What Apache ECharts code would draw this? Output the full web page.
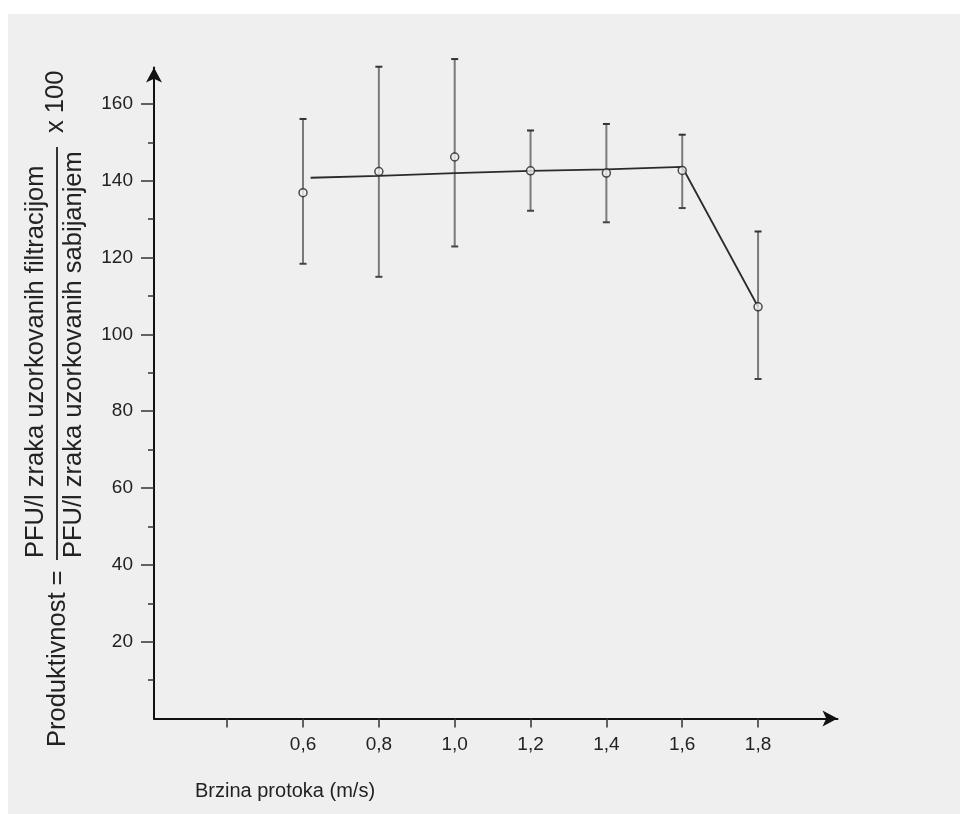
<!DOCTYPE html>
<html>
<head>
<meta charset="utf-8">
<script src="https://cdn.jsdelivr.net/npm/echarts@6/dist/echarts.min.js"></script>
<style>
  html, body { margin: 0; padding: 0; background: #ffffff; }
  #chart { width: 960px; height: 814px; }
</style>
</head>
<body>
<div id="chart"></div>
<script>
// flow speed (m/s) and productivity
const speeds = [0.6, 0.8, 1.0, 1.2, 1.4, 1.6, 1.8]
const meanValues = [136.9, 142.4, 146.2, 142.6, 142.0, 142.7, 107.2]
const lowValues = [118.4, 115.0, 122.9, 132.2, 129.2, 132.9, 88.4]
const highValues = [156.1, 169.7, 171.7, 153.1, 154.8, 152.0, 126.8]

// the drawn trend line does not pass exactly through the markers
const lineSpeeds = [0.62, 0.8, 1.0, 1.2, 1.4, 1.6, 1.8]
const lineValues = [140.8, 141.3, 142.0, 142.6, 143.0, 143.6, 107.2]

const xTickValues = [0.4, 0.6, 0.8, 1.0, 1.2, 1.4, 1.6, 1.8]
const xLabelValues = [0.6, 0.8, 1.0, 1.2, 1.4, 1.6, 1.8]
const yLabelValues = [20, 40, 60, 80, 100, 120, 140, 160]
const yMinorTickValues = [10, 30, 50, 70, 90, 110, 130, 150]

const font = "'Liberation Sans', Arial, sans-serif"
const ink = '#222222'

const chart = echarts.init(document.getElementById('chart'))

chart.setOption({
  animation: false,
  backgroundColor: '#ffffff',
  grid: {
    left: 154,
    right: 122.5,
    top: 67.5,
    bottom: 95.5,
    containLabel: false,
    outerBoundsMode: 'none',
  },
  graphic: [
    {
      type: 'rect',
      z: -10,
      silent: true,
      shape: { x: 8, y: 14, width: 952, height: 800 },
      style: { fill: '#efefef' },
    },
    {
      type: 'text',
      x: 58,
      y: 747,
      rotation: Math.PI / 2,
      style: {
        text: 'Produktivnost =',
        font: '25.5px ' + font,
        fill: ink,
        textAlign: 'left',
        textVerticalAlign: 'middle',
      },
    },
    {
      type: 'text',
      x: 36,
      y: 558,
      rotation: Math.PI / 2,
      style: {
        text: 'PFU/l zraka uzorkovanih filtracijom',
        font: '25.5px ' + font,
        fill: ink,
        textAlign: 'left',
        textVerticalAlign: 'middle',
      },
    },
    {
      type: 'line',
      shape: { x1: 57, y1: 560, x2: 57, y2: 147 },
      style: { stroke: '#333333', lineWidth: 2 },
    },
    {
      type: 'text',
      x: 74,
      y: 558,
      rotation: Math.PI / 2,
      style: {
        text: 'PFU/l zraka uzorkovanih sabijanjem',
        font: '25.5px ' + font,
        fill: ink,
        textAlign: 'left',
        textVerticalAlign: 'middle',
      },
    },
    {
      type: 'text',
      x: 56,
      y: 133,
      rotation: Math.PI / 2,
      style: {
        text: 'x 100',
        font: '25.5px ' + font,
        fill: ink,
        textAlign: 'left',
        textVerticalAlign: 'middle',
      },
    },
    {
      type: 'text',
      x: 195,
      y: 791,
      style: {
        text: 'Brzina protoka (m/s)',
        font: '20px ' + font,
        fill: ink,
        textAlign: 'left',
        textVerticalAlign: 'middle',
      },
    },
  ],
  xAxis: {
    type: 'value',
    min: 0.207,
    max: 2.0095,
    splitLine: { show: false },
    axisLine: {
      symbol: ['none', 'arrow'],
      symbolSize: [12, 15],
      lineStyle: { color: '#111111', width: 2 },
    },
    axisTick: {
      customValues: xTickValues,
      length: 9,
      lineStyle: { color: '#333333', width: 1.5 },
    },
    axisLabel: {
      customValues: xLabelValues,
      margin: 17,
      color: ink,
      fontSize: 19,
      fontFamily: font,
      formatter: (v) => v.toFixed(1).replace('.', ','),
    },
  },
  yAxis: [
    {
      type: 'value',
      min: 0,
      max: 169.5,
      splitLine: { show: false },
      axisLine: {
        symbol: ['none', 'arrow'],
        symbolSize: [12, 15],
        lineStyle: { color: '#111111', width: 2 },
      },
      axisTick: {
        customValues: yMinorTickValues,
        length: 6,
        lineStyle: { color: '#333333', width: 1.5 },
      },
      axisLabel: {
        customValues: yLabelValues,
        margin: 21,
        color: ink,
        fontSize: 19,
        fontFamily: font,
      },
    },
    {
      type: 'value',
      position: 'left',
      offset: 0,
      min: 0,
      max: 169.5,
      splitLine: { show: false },
      axisLine: { show: false },
      axisLabel: { show: false },
      axisTick: {
        customValues: yLabelValues,
        length: 13,
        lineStyle: { color: '#333333', width: 1.5 },
      },
    },
  ],
  series: [
    {
      type: 'line',
      data: lineSpeeds.map((x, i) => [x, lineValues[i]]),
      showSymbol: false,
      symbol: 'none',
      lineStyle: { color: '#2b2b2b', width: 1.8 },
      z: 3,
    },
    {
      type: 'custom',
      data: speeds.map((x, i) => [x, lowValues[i], highValues[i]]),
      encode: { x: 0, y: [1, 2] },
      z: 2,
      renderItem: (params, api) => {
        const x = api.value(0)
        const top = api.coord([x, api.value(2)])
        const bottom = api.coord([x, api.value(1)])
        const cap = 3.5
        return {
          type: 'group',
          children: [
            {
              type: 'line',
              shape: { x1: top[0], y1: top[1], x2: bottom[0], y2: bottom[1] },
              style: { stroke: '#7a7a7a', lineWidth: 2 },
            },
            {
              type: 'line',
              shape: { x1: top[0] - cap, y1: top[1], x2: top[0] + cap, y2: top[1] },
              style: { stroke: '#333333', lineWidth: 2 },
            },
            {
              type: 'line',
              shape: { x1: bottom[0] - cap, y1: bottom[1], x2: bottom[0] + cap, y2: bottom[1] },
              style: { stroke: '#444444', lineWidth: 2 },
            },
          ],
        }
      },
    },
    {
      type: 'scatter',
      data: speeds.map((x, i) => [x, meanValues[i]]),
      symbol: 'circle',
      symbolSize: 8,
      itemStyle: { color: '#efefef', borderColor: '#222222', borderWidth: 1.5 },
      z: 5,
    },
  ],
})
</script>
</body>
</html>
